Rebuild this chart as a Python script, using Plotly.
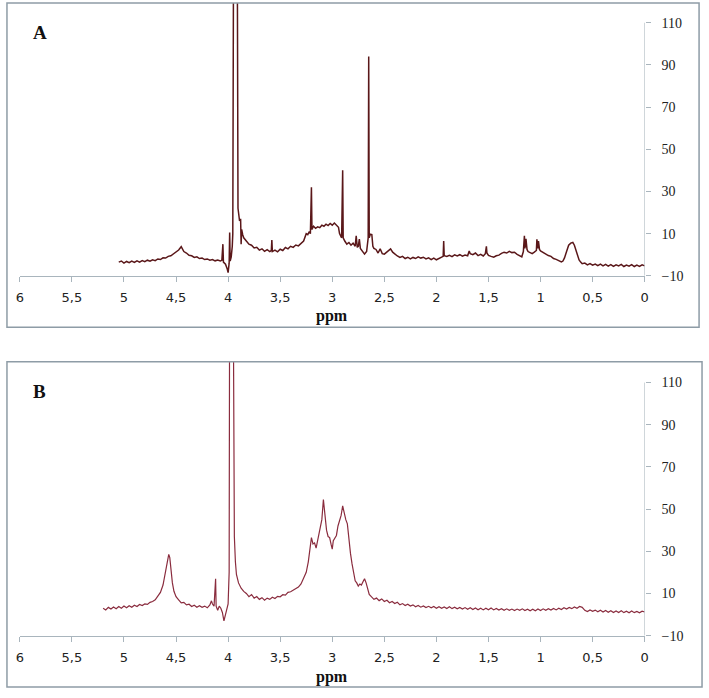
import plotly.graph_objects as go

# ---------------- Spectrum A ----------------
ppm_a = [5.05, 5.025, 5.0, 4.975, 4.95, 4.925, 4.9, 4.875, 4.85, 4.825, 4.8, 4.775, 4.75, 4.725, 4.7, 4.675,
         4.65, 4.625, 4.6, 4.575, 4.55, 4.525, 4.5, 4.475, 4.45, 4.44, 4.425, 4.4, 4.375, 4.35, 4.325, 4.3,
         4.275, 4.25, 4.225, 4.2, 4.175, 4.15, 4.125, 4.1, 4.075, 4.06, 4.05, 4.045, 4.025, 4.01, 4.0, 3.99,
         3.985, 3.98, 3.97, 3.96, 3.955, 3.945, 3.93, 3.915, 3.905, 3.89, 3.88, 3.875, 3.87, 3.86, 3.85,
         3.825, 3.8, 3.775, 3.75, 3.725, 3.7, 3.675, 3.65, 3.625, 3.6, 3.585, 3.58, 3.575, 3.55, 3.525, 3.5,
         3.475, 3.45, 3.425, 3.4, 3.375, 3.35, 3.325, 3.3, 3.275, 3.25, 3.235, 3.22, 3.21, 3.2, 3.195, 3.18,
         3.16, 3.14, 3.12, 3.1, 3.08, 3.06, 3.04, 3.02, 3.0, 2.98, 2.96, 2.94, 2.93, 2.91, 2.9, 2.895, 2.88,
         2.86, 2.84, 2.82, 2.8, 2.78, 2.77, 2.76, 2.75, 2.74, 2.73, 2.71, 2.69, 2.67, 2.655, 2.65, 2.645,
         2.635, 2.62, 2.61, 2.6, 2.58, 2.56, 2.54, 2.52, 2.5, 2.48, 2.46, 2.44, 2.42, 2.4, 2.375, 2.35,
         2.325, 2.3, 2.275, 2.25, 2.225, 2.2, 2.175, 2.15, 2.125, 2.1, 2.075, 2.05, 2.025, 2.0, 1.975, 1.95,
         1.935, 1.93, 1.925, 1.9, 1.875, 1.85, 1.825, 1.8, 1.775, 1.75, 1.725, 1.7, 1.685, 1.675, 1.65,
         1.625, 1.6, 1.575, 1.55, 1.53, 1.52, 1.515, 1.5, 1.475, 1.45, 1.425, 1.4, 1.375, 1.35, 1.325, 1.3,
         1.275, 1.25, 1.225, 1.2, 1.18, 1.165, 1.155, 1.15, 1.14, 1.13, 1.12, 1.1, 1.08, 1.06, 1.04, 1.035,
         1.025, 1.02, 1.01, 1.0, 0.975, 0.95, 0.925, 0.9, 0.875, 0.85, 0.825, 0.8, 0.785, 0.77, 0.75, 0.73,
         0.71, 0.69, 0.675, 0.66, 0.645, 0.63, 0.615, 0.6, 0.575, 0.55, 0.525, 0.5, 0.475, 0.45, 0.425, 0.4,
         0.375, 0.35, 0.325, 0.3, 0.275, 0.25, 0.225, 0.2, 0.175, 0.15, 0.125, 0.1, 0.075, 0.05, 0.025, 0.0]
int_a = [-3.5, -3.0, -4.0, -3.2, -3.8, -3.0, -3.6, -2.9, -3.5, -2.8, -3.3, -2.6, -3.1, -2.4, -2.8, -2.0,
         -2.3, -1.5, -1.6, -0.8, -0.5, 0.5, 1.2, 2.2, 3.8, 2.6, 1.5, 0.8, -0.3, -0.5, -1.3, -1.0,
         -1.8, -1.6, -2.3, -2.0, -2.6, -2.3, -2.9, -2.5, -3.0, -2.6, 5.0, -3.5, -4.5, -6.5, -8.5, -4.0,
         10.5, -3.0, -1.0, 4.0, 10.0, 200.0, 600.0, 200.0, 22.0, 16.0, 17.0, 5.0, 12.0, 9.5, 8.0,
         6.5, 5.0, 4.5, 3.2, 3.5, 2.2, 2.8, 1.6, 2.4, 1.5, 2.0, 7.0, 1.5, 2.2, 1.4, 2.6,
         2.0, 3.4, 2.8, 4.0, 3.5, 4.6, 4.2, 5.6, 6.5, 10.0, 9.5, 11.0, 10.0, 32.0, 12.0, 13.5,
         12.5, 13.2, 12.8, 14.0, 13.5, 14.5, 13.8, 14.8, 14.0, 15.0, 14.2, 13.0, 10.0, 8.0, 40.0, 8.0, 6.5,
         5.0, 5.8, 4.5, 5.5, 4.0, 9.0, 3.5, 4.0, 7.4, 3.0, 1.5, 0.3, 1.5, 8.0, 94.0, 8.0,
         9.7, 9.5, 4.0, 3.0, 2.5, 0.8, 2.8, 0.5, 0.3, 1.2, 2.0, 2.8, 1.2, 0.2, -0.6, -1.3,
         -0.8, -1.8, -1.2, -2.0, -1.3, -1.8, -1.0, -1.6, -1.2, -2.0, -1.5, -2.3, -1.6, -2.4, -1.8, -1.2,
         -0.8, 6.5, -0.5, -0.8, -0.3, -0.9, -0.1, -0.6, 0.0, -0.7, -0.2, -0.5, 1.8, 0.5, 0.0,
         0.8, -0.4, 0.2, -0.6, 0.5, 4.0, 0.8, -0.3, -0.8, -1.2, -0.5, -0.2, 0.6, 1.2, 0.8, 1.6,
         1.0, 1.2, 0.2, -0.6, -1.0, 1.5, 9.0, 3.0, 7.5, 2.5, 1.5, 1.0, 0.5, 1.2, 2.0, 7.3,
         3.0, 6.5, 2.5, 1.8, 1.0, 0.2, -0.4, -0.8, -1.8, -2.2, -2.8, -3.4, -3.0, -1.5, 1.5, 4.5,
         5.5, 5.8, 4.5, 2.0, -0.5, -2.5, -3.5, -4.3, -4.0, -4.8, -4.2, -5.0, -4.4, -5.2, -4.5, -5.3,
         -4.6, -5.4, -4.7, -5.5, -4.8, -5.3, -4.6, -5.6, -4.9, -5.4, -4.7, -5.6, -4.9, -5.5, -4.8, -5.3]

# ---------------- Spectrum B ----------------
ppm_b = [5.2, 5.175, 5.15, 5.125, 5.1, 5.075, 5.05, 5.025, 5.0, 4.975, 4.95, 4.925, 4.9, 4.875, 4.85, 4.825,
         4.8, 4.775, 4.75, 4.725, 4.7, 4.675, 4.65, 4.625, 4.6, 4.585, 4.57, 4.56, 4.55, 4.535, 4.52, 4.5,
         4.475, 4.45, 4.425, 4.4, 4.375, 4.35, 4.325, 4.3, 4.275, 4.25, 4.225, 4.2, 4.175, 4.16, 4.15, 4.135,
         4.12, 4.115, 4.1, 4.085, 4.07, 4.055, 4.04, 4.03, 4.02, 4.01, 4.0, 3.99, 3.985, 3.97, 3.955, 3.945,
         3.94, 3.93, 3.92, 3.9, 3.875, 3.85, 3.825, 3.8, 3.775, 3.75, 3.725, 3.7, 3.675, 3.65, 3.625, 3.6,
         3.575, 3.55, 3.525, 3.5, 3.475, 3.45, 3.425, 3.4, 3.375, 3.35, 3.325, 3.3, 3.275, 3.25, 3.23, 3.215,
         3.2, 3.185, 3.17, 3.155, 3.14, 3.12, 3.1, 3.085, 3.07, 3.055, 3.04, 3.025, 3.01, 3.0, 2.99, 2.975,
         2.96, 2.945, 2.93, 2.915, 2.9, 2.885, 2.87, 2.855, 2.84, 2.825, 2.81, 2.795, 2.78, 2.765, 2.75,
         2.735, 2.72, 2.705, 2.69, 2.675, 2.66, 2.645, 2.625, 2.6, 2.575, 2.55, 2.525, 2.5, 2.475, 2.45,
         2.425, 2.4, 2.375, 2.35, 2.325, 2.3, 2.275, 2.25, 2.225, 2.2, 2.175, 2.15, 2.125, 2.1, 2.075, 2.05,
         2.025, 2.0, 1.975, 1.95, 1.925, 1.9, 1.875, 1.85, 1.825, 1.8, 1.775, 1.75, 1.725, 1.7, 1.675, 1.65,
         1.625, 1.6, 1.575, 1.55, 1.525, 1.5, 1.475, 1.45, 1.425, 1.4, 1.375, 1.35, 1.325, 1.3, 1.275, 1.25,
         1.225, 1.2, 1.175, 1.15, 1.125, 1.1, 1.075, 1.05, 1.025, 1.0, 0.975, 0.95, 0.925, 0.9, 0.875, 0.85,
         0.825, 0.8, 0.775, 0.75, 0.725, 0.7, 0.675, 0.65, 0.625, 0.6, 0.575, 0.55, 0.525, 0.5, 0.475, 0.45,
         0.425, 0.4, 0.375, 0.35, 0.325, 0.3, 0.275, 0.25, 0.225, 0.2, 0.175, 0.15, 0.125, 0.1, 0.075, 0.05,
         0.025, 0.0]
int_b = [3.0, 2.2, 3.4, 2.6, 3.6, 2.8, 3.8, 3.0, 4.0, 3.2, 4.2, 3.5, 4.4, 3.8, 4.8, 4.3,
         5.0, 4.8, 5.8, 6.2, 7.0, 8.5, 10.5, 14.0, 20.0, 25.0, 28.5, 27.0, 21.0, 15.0, 11.0, 8.5,
         7.0, 5.5, 5.8, 4.6, 4.9, 3.8, 4.4, 3.5, 4.2, 3.4, 4.0, 3.2, 4.6, 6.5, 5.0, 4.0,
         17.0, 4.0, 2.0, 4.0, 3.0, 1.0, -3.0, -1.0, 0.0, 2.0, 5.0, 20.0, 200.0, 600.0, 200.0, 40.0,
         37.0, 25.0, 19.0, 15.0, 12.5, 11.0, 10.0, 8.5, 9.5, 7.8, 8.5, 7.2, 8.0, 6.8, 7.8, 7.2,
         8.2, 7.6, 8.6, 8.4, 9.4, 9.2, 10.5, 10.8, 11.5, 12.2, 13.0, 14.5, 17.0, 20.0, 25.0, 31.0,
         36.5, 33.5, 34.0, 31.5, 35.0, 39.0, 45.0, 54.5, 46.0, 40.0, 37.0, 36.5, 33.0, 31.0, 35.0, 36.0,
         37.5, 42.0, 45.0, 47.0, 51.5, 48.0, 45.0, 43.0, 35.0, 29.0, 24.0, 19.0, 16.0, 15.0, 13.5,
         14.5, 14.0, 15.5, 17.0, 15.0, 12.0, 9.5, 8.5, 7.2, 7.8, 6.6, 7.4, 6.2, 6.8, 5.6,
         6.2, 5.2, 5.8, 4.6, 5.2, 4.3, 4.9, 4.0, 4.6, 3.7, 4.3, 3.5, 4.1, 3.3, 3.9, 3.2,
         3.8, 3.0, 3.7, 3.0, 3.6, 2.9, 3.7, 2.8, 3.5, 2.7, 3.4, 2.6, 3.3, 2.5, 3.2, 2.4,
         3.1, 2.3, 3.0, 2.2, 3.0, 2.3, 3.1, 2.2, 2.9, 2.1, 2.8, 2.0, 2.7, 2.0, 2.6, 1.9,
         2.6, 2.0, 2.7, 1.9, 2.5, 1.8, 2.5, 1.8, 2.6, 1.9, 2.7, 2.0, 2.8, 2.1, 2.9, 2.2,
         3.0, 2.4, 3.2, 2.6, 3.4, 2.8, 3.6, 3.0, 3.8, 3.4, 2.0, 1.4, 2.2, 1.5, 2.1, 1.3,
         2.0, 1.2, 1.9, 1.1, 1.8, 1.0, 1.7, 1.0, 1.8, 0.9, 1.6, 0.8, 1.7, 0.9, 1.5, 0.8,
         1.6, 1.2]

x_tick_vals = [6, 5.5, 5, 4.5, 4, 3.5, 3, 2.5, 2, 1.5, 1, 0.5, 0]
x_tick_text = ["6", "5,5", "5", "4,5", "4", "3,5", "3", "2,5", "2", "1,5", "1", "0,5", "0"]
y_tick_vals = [-10, 10, 30, 50, 70, 90, 110]
panel_labels = ["A", "B"]

W, H = 709, 698
AX = "#a9b5bd"
BORDER = "#8e9ca6"


def py(p):
    return 1 - p / H


def px(p):
    return p / W


fig = go.Figure()
fig.add_trace(go.Scatter(x=ppm_a, y=int_a, mode="lines", xaxis="x", yaxis="y",
                         line=dict(color="#5a1719", width=1.5), showlegend=False))
fig.add_trace(go.Scatter(x=ppm_b, y=int_b, mode="lines", xaxis="x2", yaxis="y2",
                         line=dict(color="#8a2c3e", width=1.2), showlegend=False))

xd = [px(16), px(648)]
xcommon = dict(range=[6, 0], tickvals=x_tick_vals, ticktext=x_tick_text, showgrid=False,
               zeroline=False, showline=True, linecolor=AX, linewidth=1, ticks="outside",
               ticklen=5, tickcolor=AX, tickfont=dict(family="DejaVu Sans", size=13, color="#222"),
               ticklabelstandoff=5, domain=xd)
ycommon = dict(tickvals=y_tick_vals, showgrid=False, zeroline=False,
               showline=False, ticks="outside", ticklen=5, tickcolor=AX,
               side="right", tickfont=dict(family="Liberation Serif", size=14, color="#222"),
               ticklabelstandoff=8)

# y=110 sits at pixel 23 (A) / 387 (B); plot areas extend up to the panel borders
fig.update_layout(
    width=W, height=H, margin=dict(l=0, r=0, t=0, b=0),
    paper_bgcolor="white", plot_bgcolor="white",
    xaxis=dict(**xcommon, anchor="y"),
    yaxis=dict(**ycommon, range=[-10, 110 + 20 / 2.1333], domain=[py(279), py(3)], anchor="x"),
    xaxis2=dict(**xcommon, anchor="y2"),
    yaxis2=dict(**ycommon, range=[-10, 110 + 21 / 2.1333], domain=[py(643), py(366)], anchor="x2"),
    shapes=[
        dict(type="rect", xref="paper", yref="paper", x0=px(3), x1=px(703), y0=py(331), y1=py(3),
             line=dict(color=BORDER, width=1.5)),
        dict(type="rect", xref="paper", yref="paper", x0=px(3), x1=px(706), y0=py(695), y1=py(366),
             line=dict(color=BORDER, width=1.5)),
        dict(type="line", xref="x", yref="y", x0=0, x1=0, y0=-10, y1=110,
             line=dict(color=AX, width=1)),
        dict(type="line", xref="x2", yref="y2", x0=0, x1=0, y0=-10, y1=110,
             line=dict(color=AX, width=1)),
    ],
    annotations=[
        dict(text="<b>" + panel_labels[0] + "</b>", xref="paper", yref="paper", x=px(36), y=py(33),
             xanchor="center", yanchor="middle",
             showarrow=False, font=dict(family="Liberation Serif", size=19, color="#111")),
        dict(text="<b>" + panel_labels[1] + "</b>", xref="paper", yref="paper", x=px(36), y=py(396),
             xanchor="center", yanchor="middle",
             showarrow=False, font=dict(family="Liberation Serif", size=19, color="#111")),
        dict(text="<b>ppm</b>", xref="paper", yref="paper", x=px(332), y=py(320),
             xanchor="center", yanchor="middle",
             showarrow=False, font=dict(family="Liberation Serif", size=16, color="#111")),
        dict(text="<b>ppm</b>", xref="paper", yref="paper", x=px(332), y=py(685),
             xanchor="center", yanchor="middle",
             showarrow=False, font=dict(family="Liberation Serif", size=16, color="#111")),
    ],
)

fig.write_html("out.html")
